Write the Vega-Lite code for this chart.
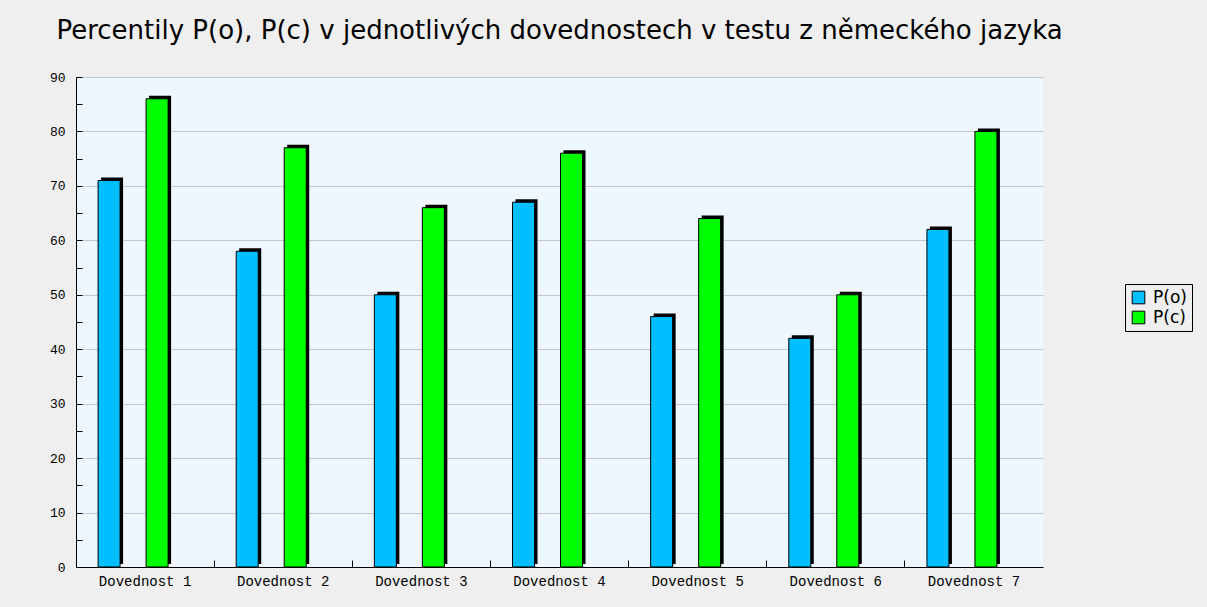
{
  "$schema": "https://vega.github.io/schema/vega-lite/v6.json",
  "autosize": "none",
  "width": 967,
  "height": 490,
  "padding": {"left": 76, "top": 77, "right": 164, "bottom": 40},
  "background": "#efefef",
  "title": {
    "text": "Percentily P(o), P(c) v jednotlivých dovednostech v testu z německého jazyka",
    "anchor": "start",
    "dx": 7,
    "offset": 27,
    "font": "DejaVu Sans",
    "fontSize": 26,
    "fontWeight": "normal",
    "color": "#000000"
  },
  "config": {"view": {"fill": "#eef6fe", "stroke": null}},
  "data": {
    "values": [
      {"cat": "Dovednost 1", "series": "P(o)", "value": 71},
      {"cat": "Dovednost 1", "series": "P(c)", "value": 86},
      {"cat": "Dovednost 2", "series": "P(o)", "value": 58},
      {"cat": "Dovednost 2", "series": "P(c)", "value": 77},
      {"cat": "Dovednost 3", "series": "P(o)", "value": 50},
      {"cat": "Dovednost 3", "series": "P(c)", "value": 66},
      {"cat": "Dovednost 4", "series": "P(o)", "value": 67},
      {"cat": "Dovednost 4", "series": "P(c)", "value": 76},
      {"cat": "Dovednost 5", "series": "P(o)", "value": 46},
      {"cat": "Dovednost 5", "series": "P(c)", "value": 64},
      {"cat": "Dovednost 6", "series": "P(o)", "value": 42},
      {"cat": "Dovednost 6", "series": "P(c)", "value": 50},
      {"cat": "Dovednost 7", "series": "P(o)", "value": 62},
      {"cat": "Dovednost 7", "series": "P(c)", "value": 80}
    ]
  },
  "encoding": {
    "x": {
      "field": "cat",
      "type": "nominal",
      "sort": null,
      "scale": {"paddingInner": 0, "paddingOuter": 0},
      "axis": {
        "title": null,
        "labelAngle": 0,
        "bandPosition": 0,
        "labelFlush": false,
        "tickSize": -7,
        "tickColor": "#000000",
        "domainColor": "#000000",
        "labelFont": "Liberation Mono",
        "labelFontSize": 14,
        "labelColor": "#000000",
        "labelPadding": 14
      }
    },
    "y": {
      "field": "value",
      "type": "quantitative",
      "scale": {"domain": [0, 90], "nice": false},
      "axis": {
        "title": null,
        "values": [0, 5, 10, 15, 20, 25, 30, 35, 40, 45, 50, 55, 60, 65, 70, 75, 80, 85, 90],
        "labelExpr": "datum.value % 10 == 0 ? datum.label : ''",
        "grid": true,
        "gridColor": "#c4c8cc",
        "gridOpacity": {"condition": {"test": "datum.value % 10 == 0", "value": 1}, "value": 0},
        "tickSize": -6,
        "tickColor": "#000000",
        "domainColor": "#000000",
        "labelFont": "Liberation Mono",
        "labelFontSize": 13,
        "labelColor": "#000000",
        "labelPadding": 17
      }
    }
  },
  "layer": [
    {
      "transform": [{"filter": "datum.series == 'P(o)'"}],
      "mark": {"type": "bar", "width": 22, "xOffset": -33, "yOffset": -3, "color": "#000000"}
    },
    {
      "transform": [{"filter": "datum.series == 'P(c)'"}],
      "mark": {"type": "bar", "width": 22, "xOffset": 15, "yOffset": -3, "color": "#000000"}
    },
    {
      "transform": [{"filter": "datum.series == 'P(o)'"}],
      "mark": {"type": "bar", "width": 22, "xOffset": -36, "stroke": "#000000", "strokeWidth": 1},
      "encoding": {
        "color": {
          "field": "series",
          "type": "nominal",
          "scale": {"domain": ["P(o)", "P(c)"], "range": ["#00bfff", "#00ff00"]},
          "legend": {
            "orient": "none",
            "legendX": 1049,
            "legendY": 207,
            "title": null,
            "fillColor": "#efefef",
            "strokeColor": "#000000",
            "padding": 5,
            "symbolType": "square",
            "symbolSize": 160,
            "symbolStrokeColor": "#000000",
            "symbolStrokeWidth": 1,
            "labelFont": "DejaVu Sans",
            "labelFontSize": 17,
            "labelColor": "#000000",
            "rowPadding": 2,
            "labelOffset": 6
          }
        }
      }
    },
    {
      "transform": [{"filter": "datum.series == 'P(c)'"}],
      "mark": {"type": "bar", "width": 22, "xOffset": 12, "stroke": "#000000", "strokeWidth": 1},
      "encoding": {
        "color": {"field": "series", "type": "nominal"}
      }
    }
  ]
}
